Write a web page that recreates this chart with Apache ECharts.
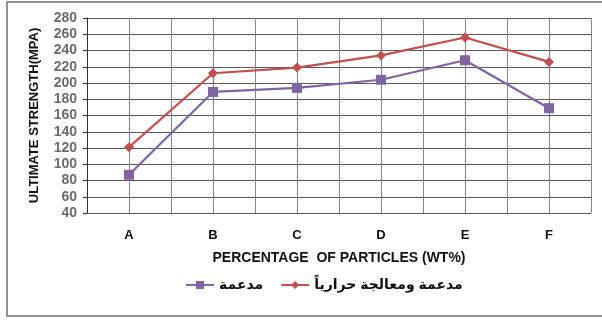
<!DOCTYPE html>
<html>
<head>
<meta charset="utf-8">
<script src="https://cdn.jsdelivr.net/npm/echarts@6/dist/echarts.min.js"></script>
<style>
  html, body { margin: 0; padding: 0; background: #fff; }
  #chart { width: 602px; height: 320px; }
</style>
</head>
<body>
<div id="chart"></div>
<script>
// Ultimate strength versus particle percentage
var categories = ['A', 'B', 'C', 'D', 'E', 'F'];
var seriesNames = ['مدعمة', 'مدعمة ومعالجة حرارياً'];
var reinforced = [87, 189, 194, 204, 228, 169];
var reinforcedHeatTreated = [121, 212, 219, 234, 256, 226];
var yTicks = { min: 40, max: 280, step: 20 };

function pairs(values) {
  return values.map(function (v, i) { return [i, v]; });
}

var font = '"Liberation Sans", Arial, "DejaVu Sans", sans-serif';
var chart = echarts.init(document.getElementById('chart'), null, { renderer: 'canvas' });

chart.setOption({
  animation: false,
  textStyle: { fontFamily: font },
  graphic: [{
    type: 'rect',
    shape: { x: 7, y: 2, width: 600, height: 314 },
    style: { fill: 'none', stroke: '#6d6d6d', lineWidth: 1.5 },
    silent: true
  }],
  grid: { left: 87, right: 11, top: 18, bottom: 107 },
  legend: {
    left: 180,
    top: 273,
    itemWidth: 28,
    itemHeight: 10,
    itemGap: 17,
    textStyle: { fontFamily: font, fontSize: 14, fontWeight: 'bold', color: '#111' },
    data: seriesNames
  },
  xAxis: {
    type: 'value',
    min: -0.5,
    max: 5.5,
    interval: 0.5,
    name: 'PERCENTAGE  OF PARTICLES (WT%)',
    nameLocation: 'middle',
    nameGap: 38,
    nameTextStyle: { fontFamily: font, fontSize: 14, fontWeight: 'bold', color: '#111' },
    axisLine: { show: false },
    axisTick: { show: false },
    axisLabel: {
      margin: 16,
      fontFamily: font,
      fontSize: 13,
      fontWeight: 'bold',
      color: '#111',
      formatter: function (v) {
        var r = Math.round(v);
        return Math.abs(v - r) < 1e-6 && categories[r] !== undefined ? categories[r] : '';
      }
    },
    splitLine: { show: true, lineStyle: { color: '#858585', width: 1 } }
  },
  yAxis: {
    type: 'value',
    min: yTicks.min,
    max: yTicks.max,
    interval: yTicks.step,
    name: 'ULTIMATE STRENGTH(MPA)',
    nameLocation: 'middle',
    nameRotate: 90,
    nameGap: 46,
    nameTextStyle: { fontFamily: font, fontSize: 13, fontWeight: 'bold', color: '#111' },
    axisLine: { show: true, onZero: false, lineStyle: { color: '#333', width: 1 } },
    axisTick: { show: true, length: 4, lineStyle: { color: '#333' } },
    axisLabel: { margin: 10, fontFamily: font, fontSize: 14, fontWeight: 'bold', color: '#6b6b6b' },
    splitLine: { show: true, lineStyle: { color: '#5a5a5a', width: 1 } }
  },
  series: [
    {
      name: seriesNames[0],
      type: 'line',
      data: pairs(reinforced),
      symbol: 'rect',
      symbolSize: 10,
      lineStyle: { color: '#8064A2', width: 2.2 },
      itemStyle: { color: '#8064A2' }
    },
    {
      name: seriesNames[1],
      type: 'line',
      data: pairs(reinforcedHeatTreated),
      symbol: 'diamond',
      symbolSize: 10,
      lineStyle: { color: '#C0504D', width: 2.2 },
      itemStyle: { color: '#C0504D' }
    }
  ]
});
</script>
</body>
</html>
